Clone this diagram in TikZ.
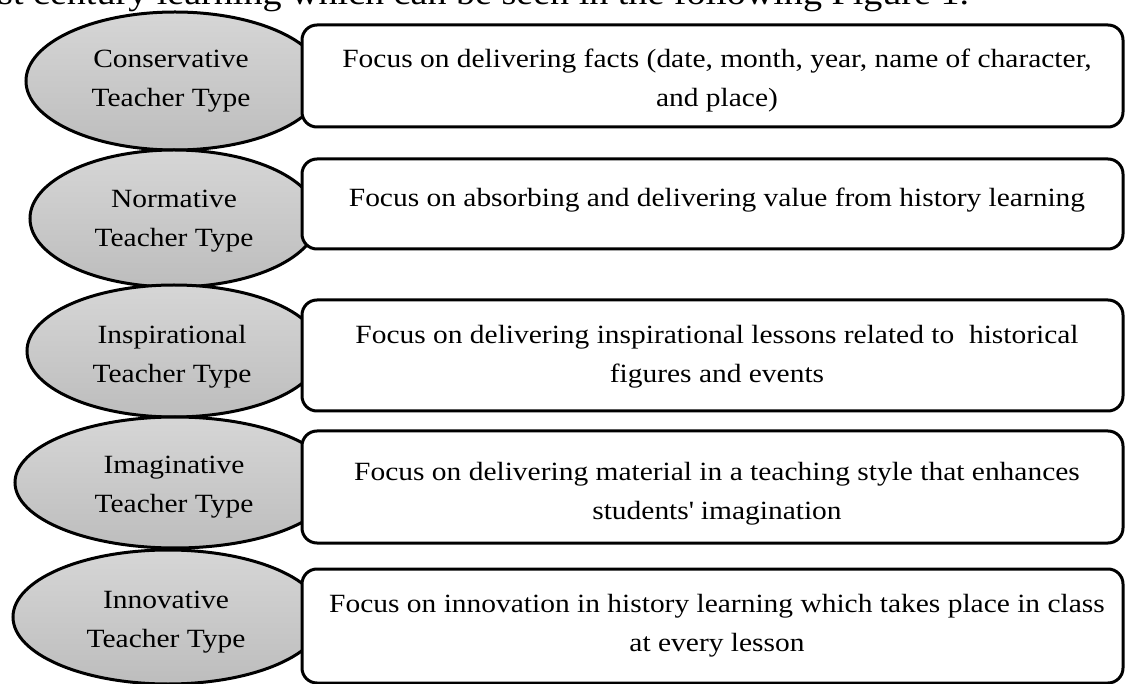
\documentclass[tikz,border=0pt]{standalone}
\usepackage{fontspec}
\setmainfont[FakeStretch=1.12]{Liberation Serif}
\usetikzlibrary{shapes.geometric}
\definecolor{ovtop}{HTML}{D6D6D6}
\definecolor{ovbot}{HTML}{BDBDBD}
\begin{document}
\begin{tikzpicture}[x=1pt,y=-1pt,
  oval/.style={ellipse, draw=black, line width=3pt, top color=ovtop, bottom color=ovbot, inner sep=0pt},
  descbox/.style={rectangle, rounded corners=15pt, draw=black, line width=3pt, fill=white, inner sep=0pt, minimum width=821pt},
  txt/.style={font=\fontsize{26.3}{39}\selectfont, align=center, inner sep=0pt}
]
\useasboundingbox (0,0) rectangle (1125,684);
\clip (0,0) rectangle (1125,684);
\fill[white] (0,0) rectangle (1125,684);

\node[txt, font=\fontsize{34}{40}\selectfont, anchor=base west] (intro) at (-2,5) {st century learning which can be seen in the following Figure 1.};

% ovals
\node[oval, minimum width=298pt, minimum height=138pt] (e1) at (175,81) {};
\node[oval, minimum width=288pt, minimum height=137pt] (e2) at (174,218.5) {};
\node[oval, minimum width=294pt, minimum height=132pt] (e3) at (174,351) {};
\node[oval, minimum width=320pt, minimum height=131pt] (e4) at (175,482.5) {};
\node[oval, minimum width=310pt, minimum height=134pt] (e5) at (168,617) {};

\node[txt] (l1) at (171,81.5) {Conservative\\Teacher Type};
\node[txt] (l2) at (174,221.5) {Normative\\Teacher Type};
\node[txt] (l3) at (172,356.5) {Inspirational\\Teacher Type};
\node[txt] (l4) at (174,487.5) {Imaginative\\Teacher Type};
\node[txt] (l5) at (166,622.5) {Innovative\\Teacher Type};

% boxes
\node[descbox, minimum height=102pt] (b1) at (712.5,76) {};
\node[descbox, minimum height=90pt] (b2) at (712.5,204) {};
\node[descbox, minimum height=111pt] (b3) at (712.5,355.5) {};
\node[descbox, minimum height=112pt] (b4) at (712.5,487) {};
\node[descbox, minimum height=114pt] (b5) at (712.5,626) {};

\node[txt] (d1) at (717,80.5) {Focus on delivering facts (date, month, year, name of character,\\and place)};
\node[txt] (d2) at (717,200) {Focus on absorbing and delivering value from history learning};
\node[txt] (d3) at (717,356.5) {Focus on delivering inspirational lessons related to~~historical\\figures and events};
\node[txt] (d4) at (717,493.5) {Focus on delivering material in a teaching style that enhances\\students\textquotesingle{} imagination};
\node[txt] (d5) at (717,625.5) {Focus on innovation in history learning which takes place in class\\at every lesson};
\end{tikzpicture}
\end{document}
